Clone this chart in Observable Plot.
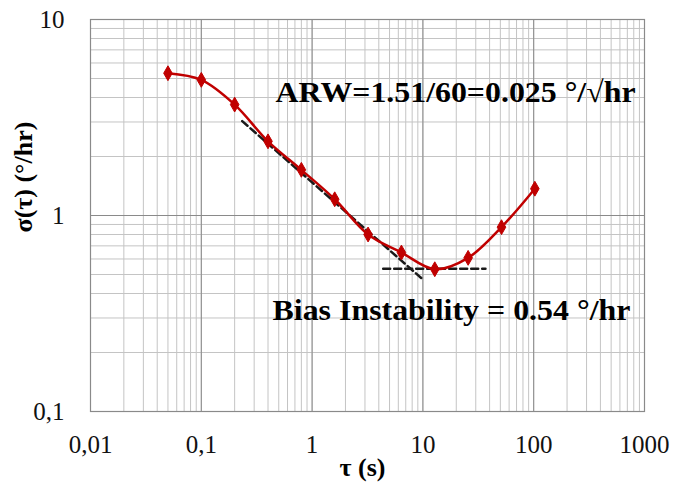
<!DOCTYPE html>
<html>
<head>
<meta charset="utf-8">
<script src="https://cdn.jsdelivr.net/npm/d3@7"></script>
<script src="https://cdn.jsdelivr.net/npm/@observablehq/plot@0.6"></script>
<style>
  html, body { margin: 0; padding: 0; background: #fff; }
  #chart { width: 673px; height: 489px; }
</style>
</head>
<body>
<div id="chart"></div>
<script>
// Measured Allan deviation
const tau = [0.05, 0.1, 0.2, 0.4, 0.8, 1.6, 3.2, 6.4, 12.8, 25.6, 51.2, 102.4];
const sigma = [5.32, 4.92, 3.68, 2.39, 1.71, 1.21, 0.80, 0.647, 0.532, 0.608, 0.872, 1.37];

// Fitted lines (dashed)
const arwTau = [0.234, 9.86];
const arwSigma = [3.03, 0.475];
const biasTau = [4.38, 36.7];
const biasSigma = [0.535, 0.535];

// Tick values and labels
const xTicks = [0.01, 0.1, 1, 10, 100, 1000];
const xTickLabels = ["0,01", "0,1", "1", "10", "100", "1000"];
const yTicks = [0.1, 1, 10];
const yTickLabels = ["0,1", "1", "10"];

// Annotations
const annTexts = ["ARW=1.51/60=0.025 °/√hr", "Bias Instability = 0.54 °/hr"];
const annTau = [0.468, 0.439];
const annSigma = [4.24, 0.329];

const points = tau.map((t, i) => ({tau: t, sigma: sigma[i]}));
const arw = arwTau.map((t, i) => ({tau: t, sigma: arwSigma[i]}));
const bias = biasTau.map((t, i) => ({tau: t, sigma: biasSigma[i]}));
const ann = annTexts.map((s, i) => ({text: s, tau: annTau[i], sigma: annSigma[i]}));

const xMinor = d3.scaleLog().domain([0.01, 1000]).ticks();
const yMinor = d3.scaleLog().domain([0.1, 10]).ticks();

const red = "#c00000";
const font = "'Liberation Serif', 'Times New Roman', serif";

const xFmt = d => { const k = xTicks.findIndex(v => Math.abs(v - d) / v < 1e-6); return k >= 0 ? xTickLabels[k] : ""; };
const yFmt = d => { const k = yTicks.findIndex(v => Math.abs(v - d) / v < 1e-6); return k >= 0 ? yTickLabels[k] : ""; };

const chart = Plot.plot({
  width: 673,
  height: 489,
  marginLeft: 90,
  marginRight: 29,
  marginTop: 19,
  marginBottom: 78,
  style: {fontFamily: font, background: "#fff", color: "#111"},
  x: {type: "log", domain: [0.01, 1000]},
  y: {type: "log", domain: [0.1, 10]},
  marks: [
    Plot.ruleX(xMinor, {stroke: "#c4c4c4", strokeWidth: 1}),
    Plot.ruleY(yMinor, {stroke: "#c4c4c4", strokeWidth: 1}),
    Plot.ruleX(xTicks, {stroke: "#8a8a8a", strokeWidth: 1}),
    Plot.ruleY(yTicks, {stroke: "#8a8a8a", strokeWidth: 1}),
    Plot.frame({stroke: "#8a8a8a", strokeWidth: 1.2}),
    Plot.axisX({ticks: xTicks, tickFormat: xFmt, tickSize: 0, tickPadding: 24, fontSize: 25, label: null}),
    Plot.axisY({ticks: yTicks, tickFormat: yFmt, tickSize: 0, tickPadding: 26, fontSize: 25, label: null}),
    Plot.line(arw, {x: "tau", y: "sigma", stroke: "#1a1a1a", strokeWidth: 2.5, strokeDasharray: "7,4"}),
    Plot.line(bias, {x: "tau", y: "sigma", stroke: "#1a1a1a", strokeWidth: 2.5, strokeDasharray: "7,4"}),
    Plot.line(points, {x: "tau", y: "sigma", stroke: red, strokeWidth: 2.5, curve: "catmull-rom"}),
    Plot.dot(points, {x: "tau", y: "sigma", symbol: "diamond", r: 4.5, fill: red, stroke: red, strokeWidth: 1}),
    Plot.text(ann, {x: "tau", y: "sigma", text: "text", textAnchor: "start", fontSize: 30, fontWeight: "bold", fill: "#000"}),
    Plot.text(["σ(τ) (°/hr)"], {frameAnchor: "left", dx: -67, dy: 17, rotate: -90, fontSize: 26, fontWeight: "bold", fill: "#000"}),
    Plot.text(["τ (s)"], {frameAnchor: "bottom", dx: -5, dy: 64, fontSize: 26, fontWeight: "bold", fill: "#000"})
  ]
});

document.getElementById("chart").appendChild(chart);

// Stretch annotation texts to the reference widths
const widths = {"ARW=1.51/60=0.025 °/√hr": 360, "Bias Instability = 0.54 °/hr": 358};
chart.querySelectorAll("text").forEach(t => {
  const w = widths[t.textContent];
  if (w) {
    t.setAttribute("textLength", w);
    t.setAttribute("lengthAdjust", "spacingAndGlyphs");
  }
});
</script>
</body>
</html>
